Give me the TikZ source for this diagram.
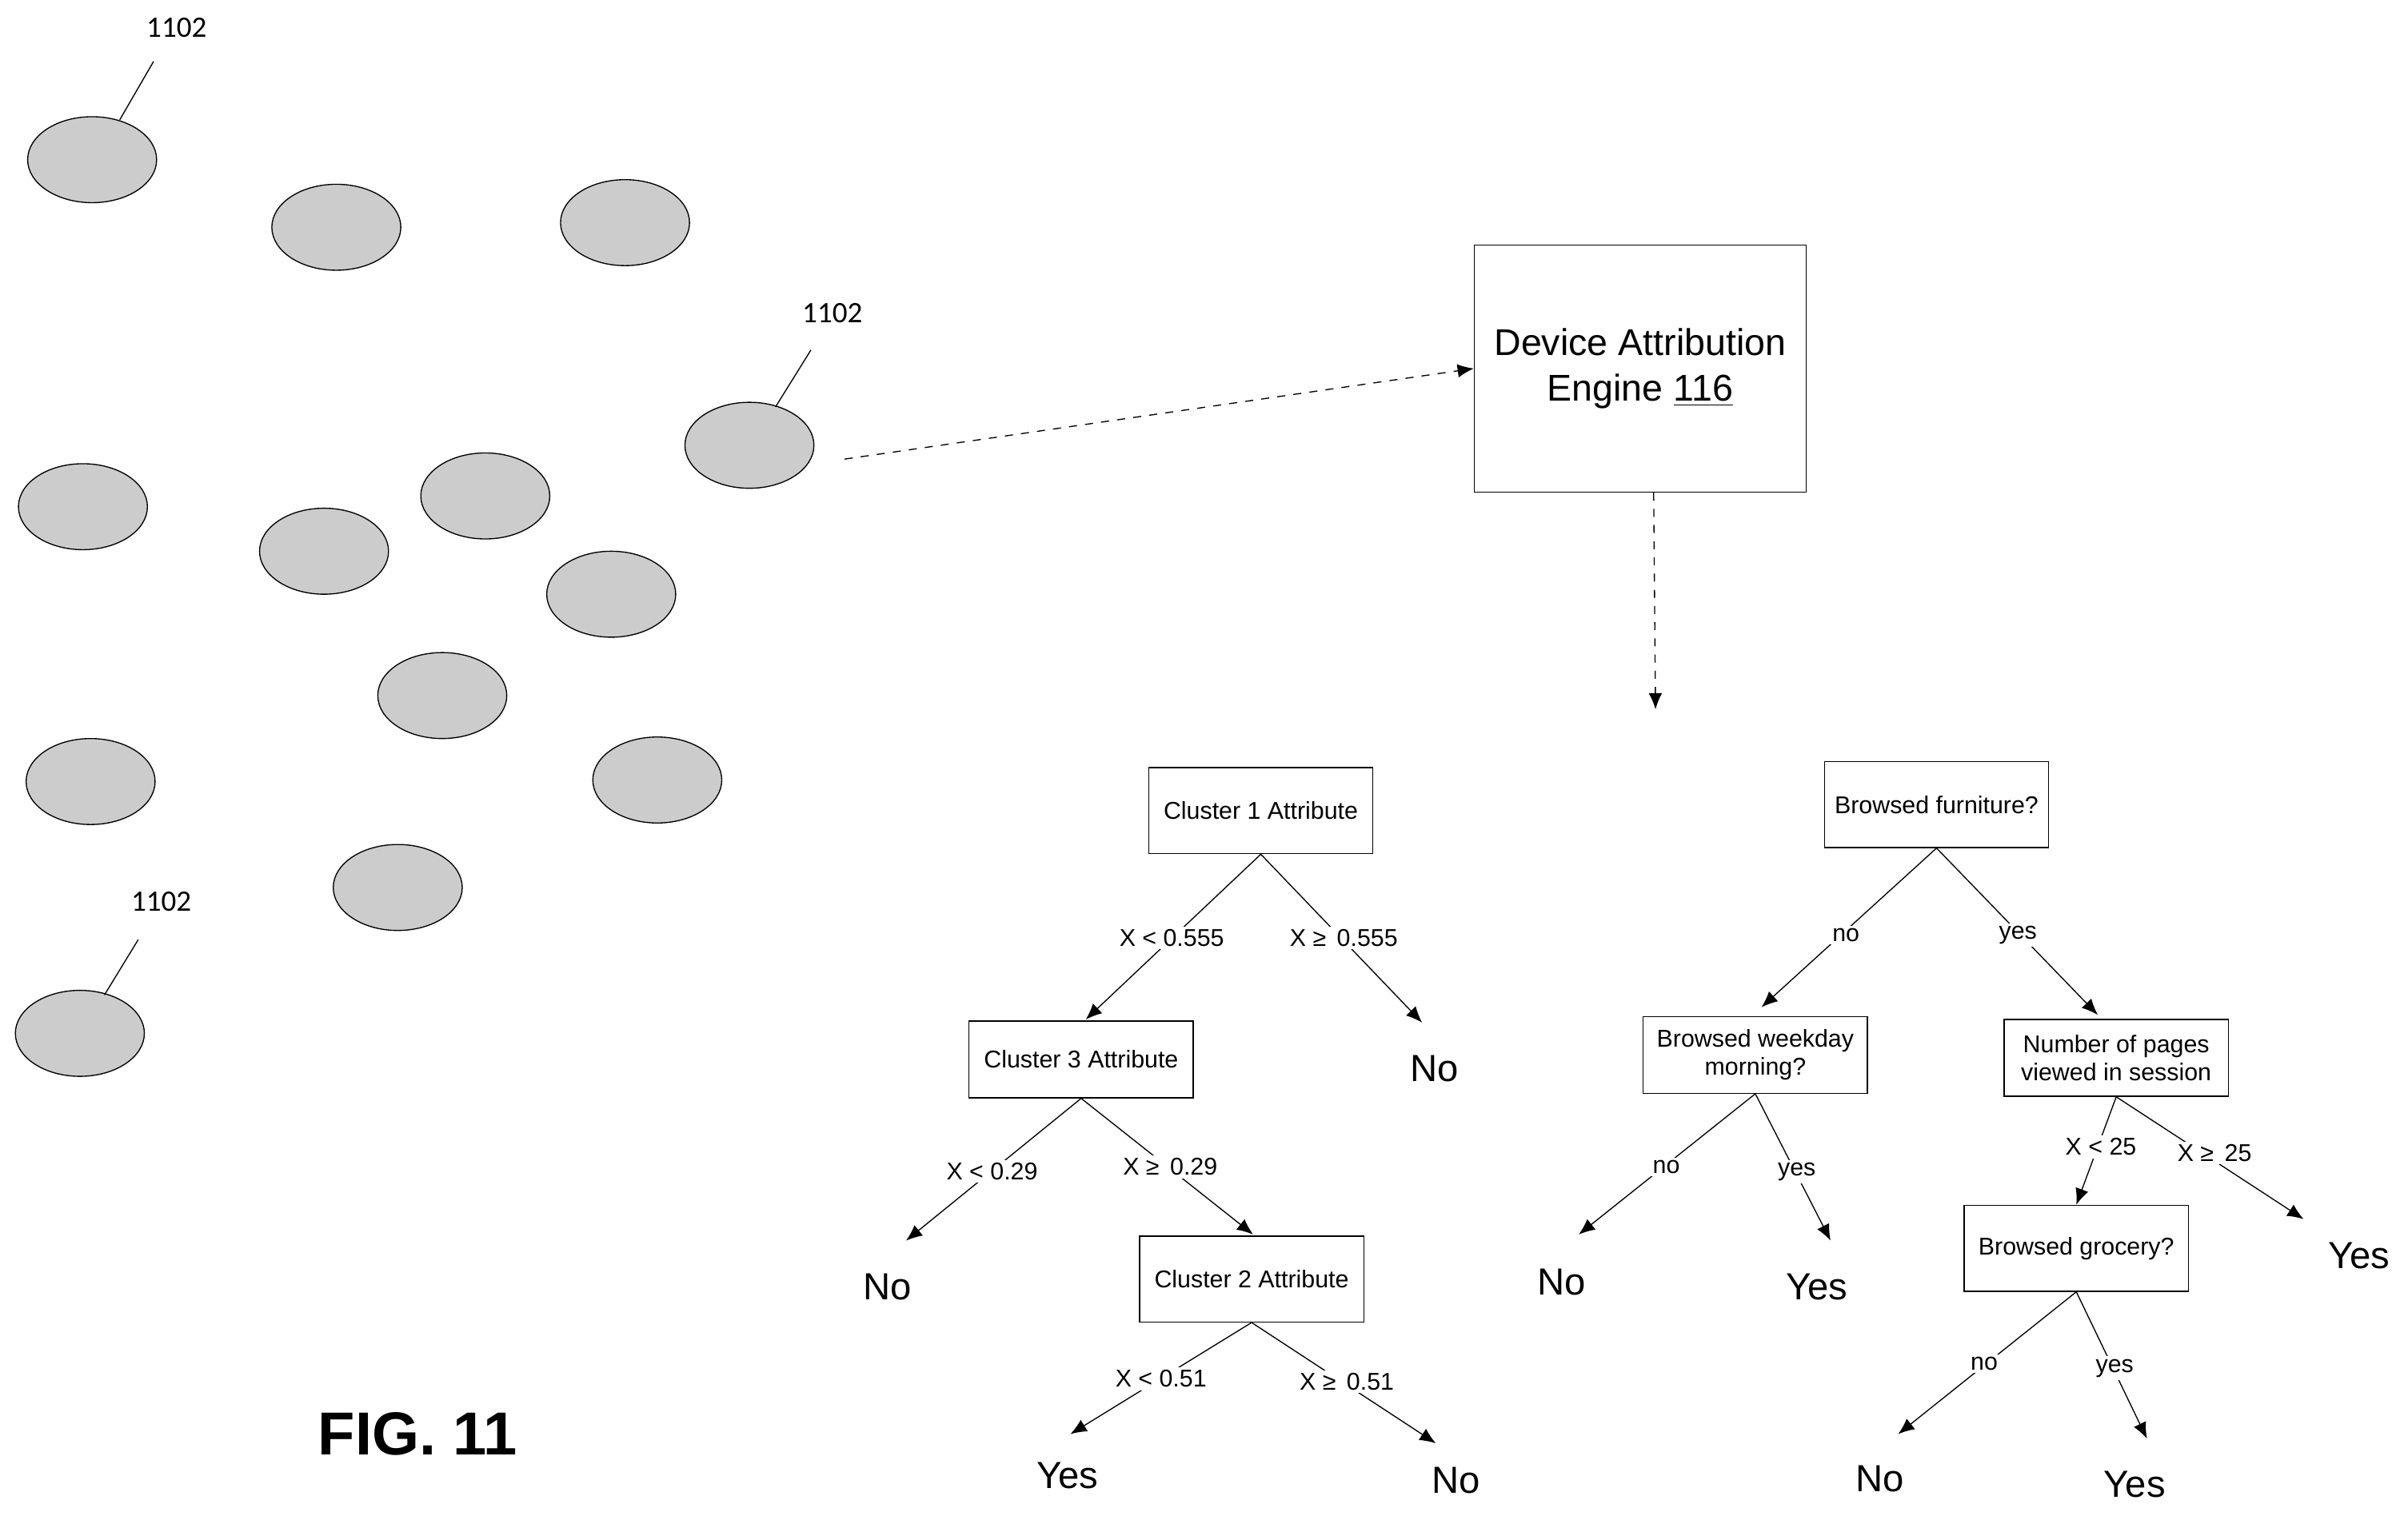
\documentclass[tikz,border=0pt]{standalone}
\usepackage{fontspec}
\setmainfont{Liberation Sans}
\newfontfamily\callout{Carlito}
\usetikzlibrary{arrows.meta,shapes.geometric}

\begin{document}
\begin{tikzpicture}[x=0.02cm,y=-0.02cm,
  blob/.style={draw,fill=gray!40,ellipse,minimum width=1.68cm,minimum height=1.12cm,inner sep=0pt},
  test/.style={draw,minimum width=2.92cm,align=center,font=\fontsize{9}{10.5}\selectfont},
  edge/.style={-{Latex[length=6pt,width=5pt]}},
  cut/.style={fill=white,inner sep=1pt,font=\fontsize{9}{10.5}\selectfont},
  leaf/.style={font=\fontsize{14}{16}\selectfont},
  ref/.style={font=\callout\fontsize{11}{13}\selectfont}]
\useasboundingbox (0,0) rectangle (1568,987);
% device clusters
\foreach \cx/\cy [count=\i] in {60/104,219/148,407/145,488/290,54/330,316/323,211/359,398/387,288/453,59/509,428/508,259/578,52/673}
  \node[blob] (b\i) at (\cx,\cy) {};
% reference labels
\node[ref] (r1) at (115,18) {1102};
\node[ref] (r2) at (542,204) {1102};
\node[ref] (r3) at (105,587) {1102};
\draw (100,40) -- (78,78);
\draw (528,228) -- (505,265);
\draw (90,612) -- (68,648);
% engine
\node[draw,minimum width=4.32cm,minimum height=3.22cm,align=center,font=\fontsize{13.8}{17}\selectfont] (eng) at (1068,240) {Device Attribution\\Engine \underline{116}};
\coordinate (src) at (550,299);
\coordinate (dwn) at (1078,462);
\draw[dashed,edge] (src) -- (eng.west);
\draw[dashed,edge] (eng.south) ++(5pt,0) -- (dwn);
% left tree
\node[test,minimum height=1.12cm] (c1) at (821,528) {Cluster 1 Attribute};
\node[test,minimum height=1cm] (c3) at (704,690) {Cluster 3 Attribute};
\node[test,minimum height=1.12cm] (c2) at (815,833) {Cluster 2 Attribute};
\node[leaf] (l1) at (934,696) {No};
\node[leaf] (l2) at (578,838) {No};
\node[leaf] (l3) at (695,961) {Yes};
\node[leaf] (l4) at (948,964) {No};
\draw[edge] (c1.south) -- (707,664);
\draw[edge] (c1.south) -- (926,666);
\draw[edge] (c3.south) -- (590,808);
\draw[edge] (c3.south) -- (816,804);
\draw[edge] (c2.south) -- (697,934);
\draw[edge] (c2.south) -- (935,940);
\node[cut] at (763,611) {X < 0.555};
\node[cut] at (875,611) {X ≥\, 0.555};
\node[cut] at (646,763) {X < 0.29};
\node[cut] at (762,760) {X ≥\, 0.29};
\node[cut] at (756,898) {X < 0.51};
\node[cut] at (877,900) {X ≥\, 0.51};
% right tree
\node[test,minimum height=1.12cm] (f) at (1261,524) {Browsed furniture?};
\node[test,minimum height=1cm,inner sep=2pt] (w) at (1143,687) {Browsed weekday\\morning?};
\node[test,minimum height=1cm,inner sep=2pt] (p) at (1378,689) {Number of pages\\viewed in session};
\node[test,minimum height=1.12cm] (g) at (1352,813) {Browsed grocery?};
\node[leaf] (l5) at (1017,835) {No};
\node[leaf] (l6) at (1183,838) {Yes};
\node[leaf] (l7) at (1536,818) {Yes};
\node[leaf] (l8) at (1224,963) {No};
\node[leaf] (l9) at (1390,967) {Yes};
\draw[edge] (f.south) -- (1147,656);
\draw[edge] (f.south) -- (1366,661);
\draw[edge] (w.south) -- (1028,804);
\draw[edge] (w.south) -- (1192,808);
\draw[edge] (p.south) -- (g.north);
\draw[edge] (p.south) -- (1500,794);
\draw[edge] (g.south) -- (1236,934);
\draw[edge] (g.south) -- (1398,937);
\node[cut] at (1202,609) {no};
\node[cut] at (1314,609) {yes};
\node[cut] at (1085,760) {no};
\node[cut] at (1170,763) {yes};
\node[cut] at (1368,747) {X < 25};
\node[cut] at (1442,751) {X ≥\, 25};
\node[cut] at (1292,888) {no};
\node[cut] at (1377,891) {yes};
% figure label
\node[font=\bfseries\fontsize{22.5}{26}\selectfont] (fig) at (272,934) {FIG. 11};
\end{tikzpicture}
\end{document}
